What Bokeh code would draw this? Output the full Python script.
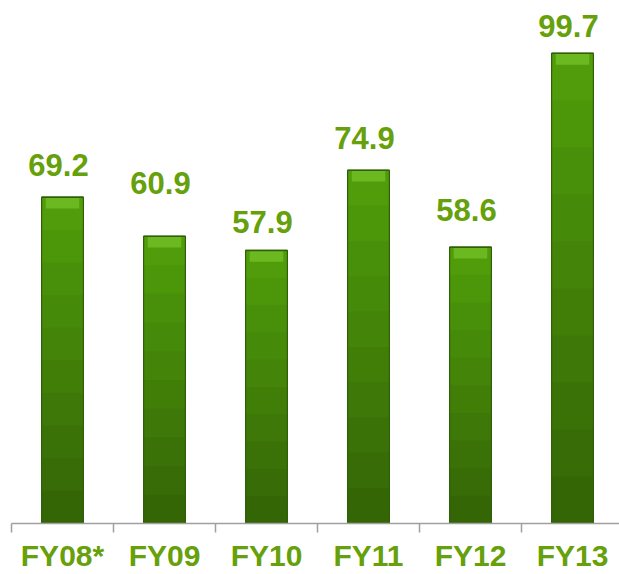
from bokeh.plotting import figure
from bokeh.models import ColumnDataSource, Range1d, FixedTicker, LinearAxis
from bokeh.core.properties import value
from bokeh.embed import file_html
from bokeh.resources import INLINE

# ---- data ----
categories = ["FY08*", "FY09", "FY10", "FY11", "FY12", "FY13"]
values = [69.2, 60.9, 57.9, 74.9, 58.6, 99.7]
value_labels = ["69.2", "60.9", "57.9", "74.9", "58.6", "99.7"]

# ---- style / placement ----
label_gap_px = [21, 42, 17, 21, 26, 16]   # baseline distance above bar top
BASELINE_FIX = 11
GREEN_TEXT = "#66a00a"
FONT = "Liberation Sans"
BAR_W = 0.41

xs = [i + 0.5 for i in range(len(categories))]
src = ColumnDataSource(dict(
    x=xs,
    top=values,
    label=value_labels,
    yoff=[-(g + BASELINE_FIX) for g in label_gap_px],
))

p = figure(width=619, height=574, output_backend="svg", toolbar_location=None,
           x_range=Range1d(0, 608 / 102), y_range=Range1d(0, 110.9),
           x_axis_location=None, y_axis_location=None,
           min_border_left=11, min_border_right=0, min_border_top=0)
p.outline_line_color = None
p.xgrid.visible = False
p.ygrid.visible = False
p.background_fill_color = "white"
p.border_fill_color = "white"

# bars: stepped bands to mimic the vertical gradient (light top -> dark bottom)
band_colors = ["#509c0b", "#4c960a", "#49900a", "#468a09", "#438409",
               "#407e08", "#3d7808", "#3a7207", "#376c07", "#346606"]
n = len(band_colors)
for k, c in enumerate(band_colors):
    frac = 1 - k / n
    bsrc = ColumnDataSource(dict(x=xs, top=[v * frac for v in values]))
    p.vbar(x="x", width=BAR_W, bottom=0, top="top", source=bsrc,
           fill_color=c, line_color=None)

# darker side edges
p.vbar(x="x", width=BAR_W, bottom=0, top="top", source=src,
       fill_color=None, line_color="#2f5f06", line_width=1.2)

# lighter bevelled cap at the top of each bar
cap = ColumnDataSource(dict(x=xs, top=values, bottom=[v - 2.4 for v in values]))
p.vbar(x="x", width=BAR_W * 0.8, bottom="bottom", top="top", source=cap,
       fill_color="#78c42a", fill_alpha=0.7, line_color=None)
p.vbar(x="x", width=BAR_W, bottom="top", top="top", source=cap,
       fill_color=None, line_color="#2f5f06", line_width=1.5)

# value labels
p.text(x="x", y="top", text="label", source=src, y_offset="yoff", x_offset=-4,
       text_align="center", text_baseline="alphabetic",
       text_font=value(FONT), text_font_style="bold", text_font_size="31px",
       text_color=GREEN_TEXT)

# x axis: labels at centres, tick marks at category boundaries
ax = LinearAxis()
ax.ticker = FixedTicker(ticks=xs, minor_ticks=list(range(len(categories) + 1)))
ax.major_label_overrides = {x: c for x, c in zip(xs, categories)}
ax.axis_line_color = "#a0a0a0"
ax.axis_line_width = 1.5
ax.major_tick_line_color = None
ax.major_tick_out = 9
ax.major_tick_in = 0
ax.minor_tick_line_color = "#a0a0a0"
ax.minor_tick_line_width = 1.5
ax.minor_tick_out = 9
ax.minor_tick_in = 0
ax.major_label_standoff = 6
ax.major_label_text_font = FONT
ax.major_label_text_font_style = "bold"
ax.major_label_text_font_size = "30px"
ax.major_label_text_color = GREEN_TEXT
p.add_layout(ax, "below")

open("out.html", "w").write(file_html(p, INLINE))
